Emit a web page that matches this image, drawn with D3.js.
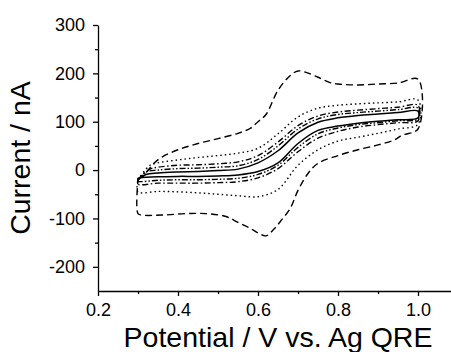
<!DOCTYPE html>
<html>
<head>
<meta charset="utf-8">
<script src="https://cdn.jsdelivr.net/npm/d3@7"></script>
<style>
  body { margin: 0; background: #fff; }
  svg { display: block; font-family: "Liberation Sans", Arial, sans-serif; }
</style>
</head>
<body>
<div class="chart"></div>
<script>
// tick values
const xTicks = [0.2, 0.4, 0.6, 0.8, 1.0];
const xMinor = [0.3, 0.5, 0.7, 0.9];
const yTicks = [-200, -100, 0, 100, 200, 300];
const yMinor = [-150, -50, 50, 150, 250];

// each loop: forward scan 0.3 -> 1.0, then back to 0.3 (V, nA)
const solidE = [0.30, 0.32, 0.35, 0.40, 0.45, 0.50, 0.55, 0.60, 0.65, 0.70, 0.75, 0.80, 0.85, 0.90, 0.95, 1.00,
                1.00, 0.95, 0.90, 0.85, 0.80, 0.75, 0.70, 0.65, 0.60, 0.55, 0.50, 0.45, 0.40, 0.35, 0.30];
const solidI = [-20, -9, -6, -4, -3, -1, 2, 15, 40, 77, 99, 108, 113, 116, 119, 122,
                108, 104, 101, 97, 91, 82, 55, 15, -3, -10, -12, -13, -13, -14, -17];

const dddE = [0.30, 0.32, 0.35, 0.40, 0.45, 0.50, 0.55, 0.60, 0.65, 0.70, 0.75, 0.80, 0.85, 0.90, 0.95, 1.00,
              1.00, 0.95, 0.90, 0.85, 0.80, 0.75, 0.70, 0.65, 0.60, 0.55, 0.50, 0.45, 0.40, 0.35, 0.30];
const dddI = [-20, -4, 0, 3, 4, 6, 9, 22, 50, 85, 106, 115, 119, 122, 125, 128,
              106, 102, 98, 94, 87, 75, 47, 10, -9, -17, -19, -20, -20, -21, -23];

const dashDotE = [0.30, 0.33, 0.35, 0.40, 0.45, 0.50, 0.55, 0.60, 0.65, 0.70, 0.75, 0.80, 0.85, 0.90, 0.95, 1.00,
                  1.00, 0.95, 0.90, 0.85, 0.80, 0.75, 0.70, 0.65, 0.60, 0.55, 0.50, 0.45, 0.40, 0.35, 0.30];
const dashDotI = [-20, 2, 6, 10, 11, 13, 17, 30, 58, 92, 112, 120, 124, 127, 130, 134,
                  102, 98, 94, 89, 80, 66, 38, 3, -16, -24, -26, -27, -27, -27, -29];

const dotE = [0.30, 0.33, 0.35, 0.40, 0.45, 0.50, 0.55, 0.60, 0.65, 0.70, 0.75, 0.80, 0.85, 0.90, 0.95, 1.00,
              1.00, 0.95, 0.90, 0.85, 0.80, 0.75, 0.70, 0.65, 0.60, 0.55, 0.50, 0.45, 0.40, 0.35, 0.30];
const dotI = [-20, 10, 15, 21, 26, 30, 35, 45, 75, 110, 128, 134, 137, 139, 141, 145,
              95, 85, 76, 68, 60, 42, 10, -40, -55, -53, -50, -47, -45, -44, -45];

const dashE = [0.30, 0.32, 0.34, 0.36, 0.40, 0.45, 0.50, 0.55, 0.58, 0.60, 0.62, 0.65, 0.68, 0.70, 0.72, 0.75, 0.78, 0.80, 0.85, 0.90, 0.95, 1.00,
               1.00, 0.96, 0.94, 0.90, 0.85, 0.80, 0.75, 0.725, 0.70, 0.68, 0.66, 0.64, 0.62, 0.60, 0.58, 0.55, 0.52, 0.47, 0.42, 0.36, 0.31, 0.30];
const dashI = [-20, -5, 14, 27, 42, 55, 65, 76, 86, 100, 115, 165, 195, 205, 202, 192, 181, 178, 176, 178, 180, 188,
               85, 72, 62, 52, 42, 30, 14, -7, -42, -80, -102, -122, -136, -130, -120, -108, -96, -90, -90, -93, -93, -90];

const width = 451, height = 352;
const svg = d3.select(".chart").append("svg")
  .attr("width", width)
  .attr("height", height);

const x = d3.scaleLinear().domain([0.2, 1.0825]).range([98, 451]);
const y = d3.scaleLinear().domain([-250, 300]).range([291, 25]);

// curves
const line = d3.line()
  .x(d => x(d[0]))
  .y(d => y(d[1]))
  .curve(d3.curveCatmullRom.alpha(0.5));

const series = [
  { E: dashE, I: dashI, dash: "7,4", w: 1.4 },
  { E: dotE, I: dotI, dash: "1.5,3", w: 1.4 },
  { E: dashDotE, I: dashDotI, dash: "6,2.5,1.5,2.5", w: 1.4 },
  { E: dddE, I: dddI, dash: "6,2,1.5,2,1.5,2", w: 1.4 },
  { E: solidE, I: solidI, dash: null, w: 1.5 }
];

series.forEach(s => {
  const pts = s.E.map((e, i) => [e, s.I[i]]);
  pts.push(pts[0]);
  svg.append("path")
    .attr("d", line(pts))
    .attr("fill", "none")
    .attr("stroke", "#000")
    .attr("stroke-width", s.w)
    .attr("stroke-dasharray", s.dash);
});

// axes
const xAxis = d3.axisBottom(x).tickValues(xTicks).tickSize(5).tickSizeOuter(0).tickPadding(7)
  .tickFormat(d3.format(".1f"));
const yAxis = d3.axisLeft(y).tickValues(yTicks).tickSize(5).tickSizeOuter(0).tickPadding(8)
  .tickFormat(d => String(d));

const gx = svg.append("g").attr("transform", "translate(0,291)").call(xAxis);
const gy = svg.append("g").attr("transform", "translate(98,0)").call(yAxis);

svg.append("g").attr("transform", "translate(0,291)")
  .call(d3.axisBottom(x).tickValues(xMinor).tickSize(3).tickSizeOuter(0).tickFormat(""))
  .select(".domain").remove();
svg.append("g").attr("transform", "translate(98,0)")
  .call(d3.axisLeft(y).tickValues(yMinor).tickSize(3).tickSizeOuter(0).tickFormat(""))
  .select(".domain").remove();

svg.selectAll(".domain, .tick line").attr("stroke", "#000").attr("stroke-width", 1.3);
svg.selectAll(".tick text")
  .attr("fill", "#000")
  .style("font-size", "18px")
  .style("font-family", "Liberation Sans, Arial, sans-serif");

// axis titles
svg.append("text")
  .attr("x", 278)
  .attr("y", 347)
  .attr("text-anchor", "middle")
  .style("font-size", "28.5px")
  .text("Potential / V vs. Ag QRE");

svg.append("text")
  .attr("transform", "translate(30,158) rotate(-90)")
  .attr("text-anchor", "middle")
  .style("font-size", "28.5px")
  .text("Current / nA");
</script>
</body>
</html>
